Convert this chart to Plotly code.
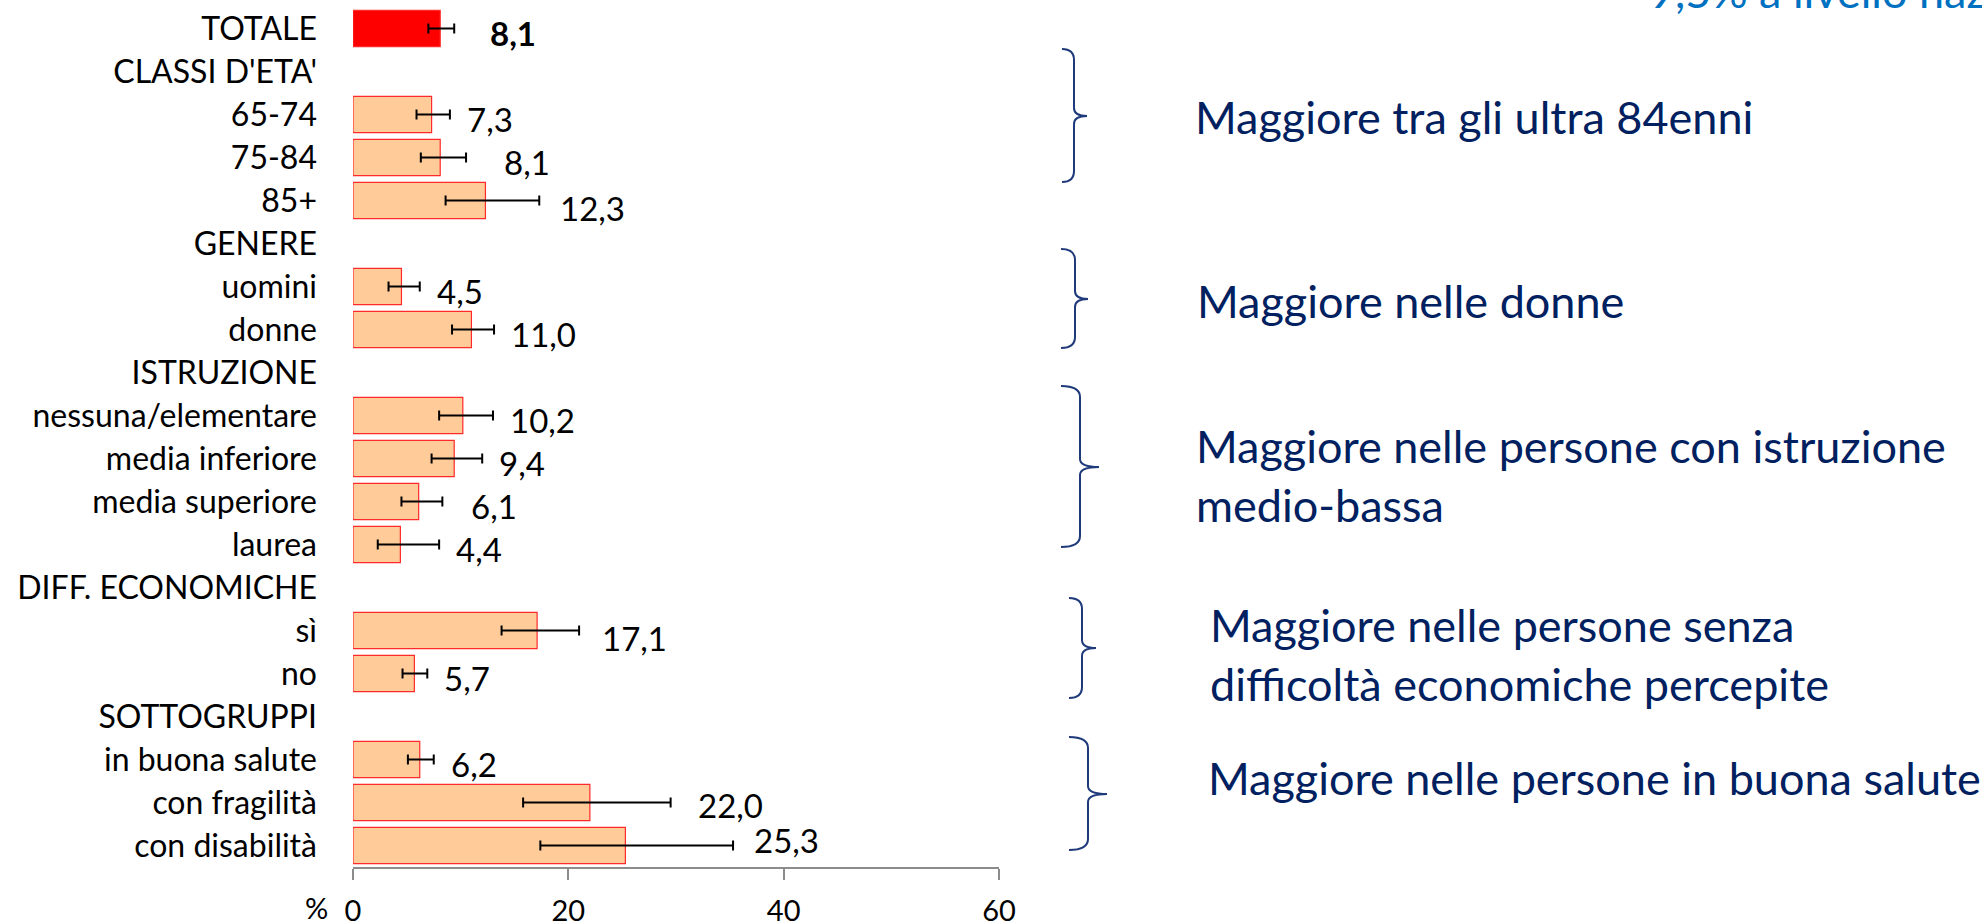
import plotly.graph_objects as go

# ---------------- data ----------------
categories = ["TOTALE", "CLASSI D'ETA'", "65-74", "75-84", "85+",
              "GENERE", "uomini", "donne",
              "ISTRUZIONE", "nessuna/elementare", "media inferiore", "media superiore", "laurea",
              "DIFF. ECONOMICHE", "sì", "no",
              "SOTTOGRUPPI", "in buona salute", "con fragilità", "con disabilità"]
values = [8.1, None, 7.3, 8.1, 12.3, None, 4.5, 11.0, None, 10.2, 9.4, 6.1, 4.4,
          None, 17.1, 5.7, None, 6.2, 22.0, 25.3]
ci_low = [7.0, None, 5.9, 6.3, 8.6, None, 3.3, 9.2, None, 8.0, 7.3, 4.5, 2.3,
          None, 13.8, 4.6, None, 5.1, 15.8, 17.4]
ci_high = [9.4, None, 9.0, 10.5, 17.3, None, 6.2, 13.1, None, 13.0, 12.0, 8.3, 8.0,
           None, 21.0, 6.9, None, 7.5, 29.5, 35.3]
x_ticks = [0, 20, 40, 60]
notes = [
    "Maggiore tra gli ultra 84enni",
    "Maggiore nelle donne",
    "Maggiore nelle persone con istruzione<br>medio-bassa",
    "Maggiore nelle persone senza<br>difficoltà economiche percepite",
    "Maggiore nelle persone in buona salute",
]
national_note = "9,5% a livello nazionale"

# ---------------- layout geometry (pixels) ----------------
W, H = 1982, 924
L, R = 353, 999          # plot area x extent
T, B = 7, 867            # plot area y extent
FONT = "Lato, Noto Sans, sans-serif"
NAVY = "#002060"

# manual nudges (px) of some value labels, as in the original slide
label_nudge = {"TOTALE": (19, 0), "75-84": (21, 0), "media superiore": (12, 0),
               "85+": (4, -3), "sì": (6, -3), "con fragilità": (10, 2),
               "con disabilità": (4, 10)}


def px_x(px):
    return (px - L) / (R - L)


def px_y(py):
    return (B - py) / (B - T)


rows = [(c, v, lo, hi) for c, v, lo, hi in zip(categories, values, ci_low, ci_high) if v is not None]
bar_cats = [r[0] for r in rows]
bar_vals = [r[1] for r in rows]
err_plus = [r[3] - r[1] for r in rows]
err_minus = [r[1] - r[2] for r in rows]
fill = ["#FF0000" if c == "TOTALE" else "#FFCC99" for c in bar_cats]

fig = go.Figure()
fig.add_trace(go.Bar(
    x=bar_vals, y=bar_cats, orientation="h",
    marker=dict(color=fill, line=dict(color="#FF2A2A", width=1.2)),
    error_x=dict(type="data", symmetric=False, array=err_plus, arrayminus=err_minus,
                 color="black", thickness=2, width=5),
    hoverinfo="skip", showlegend=False,
))

annotations = []
# value labels
for c, v, lo, hi in rows:
    txt = f"{v:.1f}".replace(".", ",")
    if c == "TOTALE":
        txt = f"<b>{txt}</b>"
    dx, dy = label_nudge.get(c, (0, 0))
    annotations.append(dict(x=hi, y=c, xref="x", yref="y", text=txt, showarrow=False,
                            xanchor="left", yanchor="middle", xshift=15 + dx, yshift=-4 + dy,
                            font=dict(family=FONT, size=33, color="black")))

# "%" sign beside the axis
annotations.append(dict(x=px_x(316), y=px_y(907), xref="paper", yref="paper", text="%",
                        showarrow=False, xanchor="center", yanchor="middle",
                        font=dict(family=FONT, size=29, color="black")))

# side notes
note_pos = [(1193, 117), (1195, 301), (1194, 475), (1208, 654), (1206, 778)]
for txt, (x, y) in zip(notes, note_pos):
    annotations.append(dict(x=px_x(x), y=px_y(y), xref="paper", yref="paper", text=txt,
                            showarrow=False, xanchor="left", yanchor="middle", align="left",
                            font=dict(family=FONT, size=45, color=NAVY)))
annotations.append(dict(x=px_x(1647), y=px_y(-9), xref="paper", yref="paper", text=national_note,
                        showarrow=False, xanchor="left", yanchor="middle",
                        font=dict(family=FONT, size=45, color="#0070C0")))

# braces
braces = [  # left x, vertical x, tip x, top y, tip y, bottom y
    (1062, 1074, 1087, 49, 116, 182),
    (1061, 1075, 1088, 249, 299, 348),
    (1061, 1080, 1099, 386, 467, 547),
    (1069, 1082, 1096, 598, 648, 698),
    (1069, 1088, 1107, 737, 794, 850),
]
shapes = []
for xl, xv, xt, yt, ym, yb in braces:
    r, r2 = 11, 8
    pts = [
        ("M", [(xl, yt)]),
        ("Q", [(xv, yt), (xv, yt + r)]),
        ("L", [(xv, ym - r2)]),
        ("Q", [(xv, ym), (xt, ym)]),
        ("Q", [(xv, ym), (xv, ym + r2)]),
        ("L", [(xv, yb - r)]),
        ("Q", [(xv, yb), (xl, yb)]),
    ]
    path = " ".join(cmd + " " + " ".join(f"{px_x(a):.5f},{px_y(b):.5f}" for a, b in p) for cmd, p in pts)
    shapes.append(dict(type="path", path=path, xref="paper", yref="paper",
                       line=dict(color="#1F3A7A", width=2)))

fig.update_layout(
    width=W, height=H,
    margin=dict(l=L, r=W - R, t=T, b=H - B, autoexpand=False),
    paper_bgcolor="white", plot_bgcolor="white",
    bargap=0.16,
    font=dict(family=FONT, size=32, color="black"),
    annotations=annotations, shapes=shapes,
    xaxis=dict(range=[0, 60], tickvals=x_ticks, ticktext=[str(t) for t in x_ticks],
               automargin=False,
               showgrid=False, zeroline=False, showline=True, linecolor="#8C8C8C", linewidth=1.5,
               ticks="outside", ticklen=11, tickwidth=1.5, tickcolor="#8C8C8C",
               tickfont=dict(family=FONT, size=29, color="black"), ticklabelstandoff=6),
    yaxis=dict(type="category", categoryorder="array", categoryarray=categories,
               tickmode="array", tickvals=categories, ticktext=categories,
               range=[len(categories) - 0.5, -0.5], automargin=False,
               showgrid=False, zeroline=False, showline=False, ticks="",
               tickfont=dict(family=FONT, size=32, color="black"), ticklabelstandoff=35),
)

fig.write_html("out.html", config={"displayModeBar": False},
               post_script="document.body.style.margin='0';document.body.style.overflow='hidden';")
